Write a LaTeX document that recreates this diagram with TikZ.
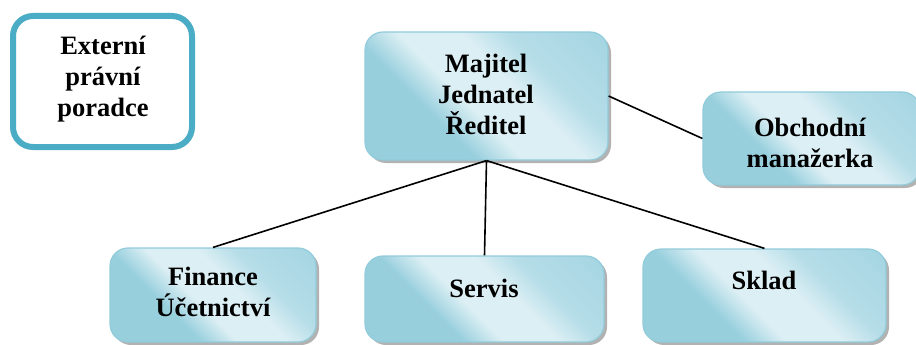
\documentclass[tikz,border=0pt]{standalone}
\usepackage{fontspec}
\setmainfont{Liberation Serif}
\usetikzlibrary{shadows}
\definecolor{bdark}{HTML}{97CFDD}
\definecolor{bmid}{HTML}{B5DDE8}
\definecolor{blight}{HTML}{DCEFF4}
\definecolor{bedge}{HTML}{92CBDA}
\definecolor{extblue}{HTML}{4BACC6}
\pgfdeclarehorizontalshading{boxshade}{100bp}{color(0bp)=(bdark); color(36bp)=(bdark); color(45bp)=(blight); color(57bp)=(blight); color(66bp)=(bmid); color(100bp)=(bdark)}
\begin{document}
\begin{tikzpicture}[x=1pt,y=-1pt,
  bluebox/.style={draw=bedge, line width=1.2pt, rounded corners=18pt, shading=boxshade, shading angle=45,
    drop shadow={shadow xshift=3pt, shadow yshift=-3pt, fill=gray!60, opacity=1}, inner sep=0pt},
  lbl/.style={font=\fontsize{26.5}{31}\selectfont\bfseries, align=center, inner sep=0pt},
  conn/.style={draw=black, line width=1.6pt}]
\useasboundingbox (0,0) rectangle (916,345);
% external advisor
\node[draw=extblue, line width=6pt, rounded corners=20pt, fill=white, minimum width=179pt, minimum height=131pt, inner sep=0pt] (ext) at (102.5,81.5) {};
\node[lbl] (extt) at (103,79) {Externí\\právní\\poradce};
% boxes
\node[bluebox, minimum width=243pt, minimum height=128pt] (maj) at (486.5,96) {};
\node[bluebox, minimum width=217pt, minimum height=93pt] (obch) at (811.5,138.5) {};
\node[bluebox, minimum width=206pt, minimum height=94pt] (fin) at (213,295) {};
\node[bluebox, minimum width=239pt, minimum height=86pt] (serv) at (484.5,299) {};
\node[bluebox, minimum width=243pt, minimum height=93pt] (skl) at (764.5,295.5) {};
% labels
\node[lbl] (majt) at (486,94) {Majitel\\Jednatel\\Ředitel};
\node[lbl] (obcht) at (810,143) {Obchodní\\manažerka};
\node[lbl] (fint) at (213,292) {Finance\\Účetnictví};
\node[lbl] (servt) at (484,288) {Servis};
\node[lbl] (sklt) at (764,280) {Sklad};
% connectors
\draw[conn] (maj.south) -- (fin.north);
\draw[conn] (maj.south) -- (serv.north);
\draw[conn] (maj.south) -- (skl.north);
\draw[conn] (maj.east) -- (obch.west);
\end{tikzpicture}
\end{document}
